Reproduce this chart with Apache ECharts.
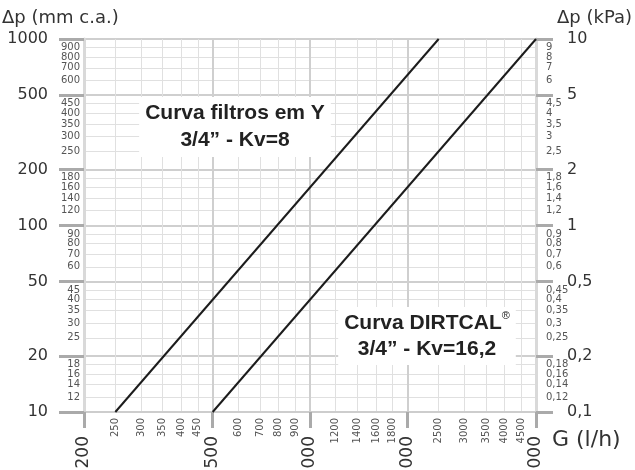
<!DOCTYPE html>
<html>
<head>
<meta charset="utf-8">
<script src="https://cdn.jsdelivr.net/npm/echarts@6/dist/echarts.min.js"></script>
<style>
  html, body { margin: 0; padding: 0; background: #fff; }
  #chart { width: 635px; height: 470px; }
</style>
</head>
<body>
<div id="chart"></div>
<script>
// tick values
const xMajor = [200, 500, 1000, 2000, 5000]
const xMinor = [250, 300, 350, 400, 450, 600, 700, 800, 900, 1200, 1400, 1600, 1800, 2500, 3000, 3500, 4000, 4500]
const mmMajor = [10, 20, 50, 100, 200, 500, 1000]
const mmMinor = [12, 14, 16, 18, 25, 30, 35, 40, 45, 60, 70, 80, 90, 120, 140, 160, 180, 250, 300, 350, 400, 450, 600, 700, 800, 900]
const kpaMajor = [0.1, 0.2, 0.5, 1, 2, 5, 10]
const kpaMinor = [0.12, 0.14, 0.16, 0.18, 0.25, 0.3, 0.35, 0.4, 0.45, 0.6, 0.7, 0.8, 0.9, 1.2, 1.4, 1.6, 1.8, 2.5, 3, 3.5, 4, 4.5, 6, 7, 8, 9]

// curves: [G (l/h), dp (mm c.a.)]
const filtroY = [[250, 10], [2500, 1000]]
const dirtcal = [[500, 10], [5000, 1000]]

const FONT = '"DejaVu Sans", sans-serif'
const BOLD = 'bold 21px "Liberation Sans", Arial, sans-serif'
const fmt = v => String(+(+v).toPrecision(6))
const fmtComma = v => fmt(v).replace('.', ',')
// split minor ticks in two sets so echarts does not drop crowded neighbours
const evens = arr => arr.filter((v, i) => i % 2 === 0)
const odds = arr => arr.filter((v, i) => i % 2 === 1)

function minorY (values, min, max, position, margin, formatter, grid) {
  return {
    type: 'log',
    min: min,
    max: max,
    position: position,
    axisLine: { show: false },
    axisTick: { show: false, customValues: values },
    axisLabel: {
      customValues: values,
      showMinLabel: true,
      showMaxLabel: true,
      margin: margin,
      fontSize: 10,
      fontFamily: FONT,
      color: '#555',
      formatter: formatter
    },
    splitLine: { show: grid, lineStyle: { color: '#e0e0e0', width: 1 } }
  }
}

function majorY (values, min, max, position, tickLen, margin, formatter, grid) {
  return {
    type: 'log',
    min: min,
    max: max,
    position: position,
    axisLine: { show: true, lineStyle: { color: '#d9d9d9', width: 3 } },
    axisTick: { show: true, customValues: values, length: tickLen, lineStyle: { color: '#aaa', width: 3 } },
    axisLabel: {
      customValues: values,
      showMinLabel: true,
      showMaxLabel: true,
      margin: margin,
      fontSize: 16,
      fontFamily: FONT,
      color: '#333',
      formatter: formatter
    },
    splitLine: { show: grid, lineStyle: { color: '#cfcfcf', width: 2 } }
  }
}

const chart = echarts.init(document.getElementById('chart'))

chart.setOption({
  animation: false,
  grid: {
    left: 84,
    right: 99,
    top: 39,
    bottom: 58,
    outerBoundsMode: 'none'
  },
  xAxis: [{
    type: 'log',
    min: 200,
    max: 5000,
    position: 'bottom',
    axisLine: { show: false },
    axisTick: { show: false, customValues: xMinor },
    axisLabel: {
      customValues: xMinor,
      showMinLabel: true,
      showMaxLabel: true,
      rotate: 90,
      margin: 6,
      fontSize: 10,
      fontFamily: FONT,
      color: '#555',
      formatter: fmt
    },
    splitLine: { show: true, lineStyle: { color: '#e0e0e0', width: 1 } }
  }, {
    type: 'log',
    min: 200,
    max: 5000,
    position: 'bottom',
    axisLine: { show: true, lineStyle: { color: '#cdcdcd', width: 2 } },
    axisTick: { show: true, customValues: xMajor, length: 16, lineStyle: { color: '#aaa', width: 3 } },
    axisLabel: {
      customValues: xMajor,
      showMinLabel: true,
      showMaxLabel: true,
      rotate: 90,
      margin: 24,
      fontSize: 17,
      fontFamily: FONT,
      color: '#333',
      formatter: fmt
    },
    splitLine: { show: true, lineStyle: { color: '#cfcfcf', width: 2 } }
  }],
  yAxis: [
    minorY(evens(mmMinor), 10, 1000, 'left', 4, fmt, true),
    minorY(odds(mmMinor), 10, 1000, 'left', 4, fmt, true),
    minorY(evens(kpaMinor), 0.1, 10, 'right', 10, fmtComma, false),
    minorY(odds(kpaMinor), 0.1, 10, 'right', 10, fmtComma, false),
    majorY(mmMajor, 10, 1000, 'left', 25, 36, fmt, true),
    majorY(kpaMajor, 0.1, 10, 'right', 17, 31, fmtComma, false)
  ],
  series: [{
    name: 'Curva filtros em Y',
    type: 'line',
    xAxisIndex: 1,
    yAxisIndex: 4,
    symbol: 'none',
    lineStyle: { color: '#1c1c1c', width: 2 },
    data: filtroY
  }, {
    name: 'Curva DIRTCAL',
    type: 'line',
    xAxisIndex: 1,
    yAxisIndex: 4,
    symbol: 'none',
    lineStyle: { color: '#1c1c1c', width: 2 },
    data: dirtcal
  }],
  graphic: [{
    type: 'text',
    left: 2,
    top: 9,
    style: { text: 'Δp (mm c.a.)', font: '18px ' + FONT, fill: '#333' }
  }, {
    type: 'text',
    left: 557,
    top: 9,
    style: { text: 'Δp (kPa)', font: '18px ' + FONT, fill: '#333' }
  }, {
    type: 'text',
    left: 552,
    top: 429,
    style: { text: 'G (l/h)', font: '22px ' + FONT, fill: '#333' }
  }, {
    type: 'text',
    x: 235,
    y: 127,
    z: 10,
    style: {
      text: 'Curva filtros em Y\n3/4” - Kv=8',
      font: BOLD,
      fill: '#222',
      align: 'center',
      verticalAlign: 'middle',
      lineHeight: 27,
      backgroundColor: '#fff',
      padding: [3, 6]
    }
  }, {
    type: 'text',
    x: 427,
    y: 336,
    z: 10,
    style: {
      text: 'Curva DIRTCAL{r|®}\n3/4” - Kv=16,2',
      font: BOLD,
      fill: '#222',
      align: 'center',
      verticalAlign: 'middle',
      lineHeight: 26,
      backgroundColor: '#fff',
      padding: [3, 6],
      rich: {
        r: {
          font: '11px "Liberation Sans", Arial, sans-serif',
          fill: '#222',
          verticalAlign: 'top',
          lineHeight: 26
        }
      }
    }
  }]
})
</script>
</body>
</html>
